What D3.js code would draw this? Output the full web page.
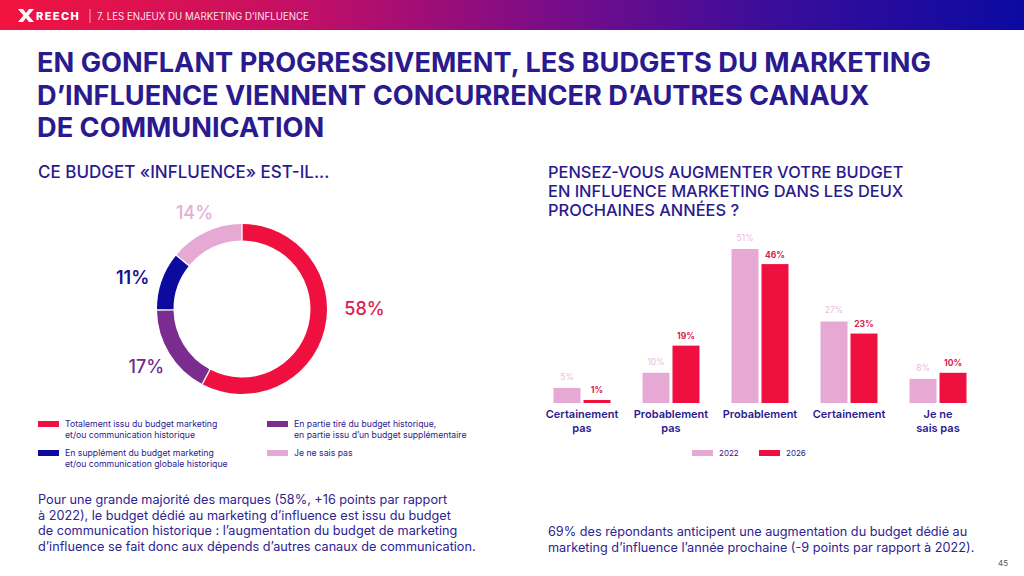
<!DOCTYPE html>
<html>
<head>
<meta charset="utf-8">
<script src="https://cdn.jsdelivr.net/npm/d3@7"></script>
<style>
  html, body { margin: 0; padding: 0; background: #fff; }
  svg { display: block; font-family: Inter, "Noto Sans", sans-serif; }
</style>
</head>
<body>
<svg id="chart" width="1024" height="576"></svg>
<script>
// Donut data
const donutLabels = [
  ["Totalement issu du budget marketing", "et/ou communication historique"],
  ["En partie tiré du budget historique,", "en partie issu d’un budget supplémentaire"],
  ["En supplément du budget marketing", "et/ou communication globale historique"],
  ["Je ne sais pas"]
];
const donutValues = [58, 17, 11, 14];

// Bar data
const barCategories = [
  ["Certainement", "pas"],
  ["Probablement", "pas"],
  ["Probablement"],
  ["Certainement"],
  ["Je ne", "sais pas"]
];
const years = ["2022", "2026"];
const values2022 = [5, 10, 51, 27, 8];
const values2026 = [1, 19, 46, 23, 10];

const navy = "#2a1a8e";
const red = "#f0103f";
const pink = "#e6a9d4";
const purple = "#7b2d8f";
const blue = "#0d0aa0";
const donutColors = [red, purple, blue, pink];
const donutTextColors = ["#d8204f", "#6e2f8a", "#15128f", "#e3b0d6"];

const svg = d3.select("#chart");

//Header band
const defs = svg.append("defs");
const grad = defs.append("linearGradient").attr("id", "hdr");
[["0%", "#f2143e"], ["30%", "#c20f66"], ["55%", "#760c8a"], ["75%", "#3b0d9a"], ["100%", "#0b0aa2"]]
  .forEach(([o, c]) => grad.append("stop").attr("offset", o).attr("stop-color", c));
svg.append("rect").attr("width", 1024).attr("height", 30).attr("fill", "url(#hdr)");

// logo
svg.append("path")
  .attr("d", "M18,9 L23,9 L26,13 L29,9 L34,9 L28.5,15.5 L34,22 L29,22 L26,18 L23,22 L18,22 L23.5,15.5 Z")
  .attr("fill", "#fff");
svg.append("text").attr("x", 36).attr("y", 20)
  .attr("fill", "#fff").attr("font-size", 11).attr("font-weight", 800)
  .attr("letter-spacing", 1.4).text("REECH");
svg.append("line").attr("x1", 90).attr("x2", 90).attr("y1", 9).attr("y2", 23)
  .attr("stroke", "#fff").attr("stroke-opacity", 0.6);
svg.append("text").attr("x", 97).attr("y", 19.5)
  .attr("fill", "#fff").attr("fill-opacity", 0.9).attr("font-size", 9.7)
  .text("7. LES ENJEUX DU MARKETING D’INFLUENCE");

// Title
const titleLines = [
  "EN GONFLANT PROGRESSIVEMENT, LES BUDGETS DU MARKETING",
  "D’INFLUENCE VIENNENT CONCURRENCER D’AUTRES CANAUX",
  "DE COMMUNICATION"
];
svg.append("g").selectAll("text").data(titleLines).enter().append("text")
  .attr("x", 37).attr("y", (d, i) => 72 + i * 32.5)
  .attr("fill", navy).attr("font-size", 27.2).attr("font-weight", 700)
  .text(d => d);

// Sub-titles
svg.append("text").attr("x", 38).attr("y", 178)
  .attr("fill", navy).attr("font-size", 17).attr("font-weight", 500)
  .text("CE BUDGET «INFLUENCE» EST-IL...");

const rightSub = [
  "PENSEZ-VOUS AUGMENTER VOTRE BUDGET",
  "EN INFLUENCE MARKETING DANS LES DEUX",
  "PROCHAINES ANNÉES ?"
];
svg.append("g").selectAll("text").data(rightSub).enter().append("text")
  .attr("x", 548).attr("y", (d, i) => 178 + i * 19)
  .attr("fill", navy).attr("font-size", 16.4).attr("font-weight", 500)
  .text(d => d);

//Donut
const cx = 242, cy = 309, rOut = 85, rIn = 68.5;
const pie = d3.pie().sort(null).value(d => d).padAngle(0.012);
const arc = d3.arc().innerRadius(rIn).outerRadius(rOut);
const arcs = pie(donutValues);

const donut = svg.append("g").attr("transform", `translate(${cx},${cy})`);
donut.selectAll("path").data(arcs).enter().append("path")
  .attr("d", arc)
  .attr("fill", (d, i) => donutColors[i]);

const labelArc = d3.arc().innerRadius(118).outerRadius(118);
const labelNudge = [[8, -29], [5, -4], [2, 8], [3, 10]];
donut.selectAll("text.pct").data(arcs).enter().append("text")
  .attr("class", "pct")
  .attr("x", (d, i) => labelArc.centroid(d)[0] + labelNudge[i][0])
  .attr("y", (d, i) => labelArc.centroid(d)[1] + labelNudge[i][1])
  .attr("dy", "0.35em")
  .attr("text-anchor", "middle")
  .attr("fill", (d, i) => donutTextColors[i])
  .attr("font-size", 18)
  .attr("font-weight", (d, i) => i === 2 ? 600 : 500)
  .text(d => `${d.data}%`);

// Donut legend
const legendPos = [[38, 424], [267, 424], [38, 453], [267, 453]];
const leg = svg.append("g").selectAll("g").data(donutLabels).enter().append("g")
  .attr("transform", (d, i) => `translate(${legendPos[i][0]},${legendPos[i][1]})`);
leg.append("rect").attr("y", -3).attr("width", 21).attr("height", 6)
  .attr("fill", (d, i) => donutColors[i]);
leg.selectAll("text").data(d => d).enter().append("text")
  .attr("x", 27).attr("y", (d, i) => 3.2 + i * 10.8)
  .attr("fill", navy).attr("font-size", 8.7)
  .text(d => d);

//Bars
const baseline = 403;
const x0 = d3.scaleBand().domain(d3.range(barCategories.length))
  .range([553.5, 966.5]).paddingInner(0.36).paddingOuter(0);
const x1 = d3.scaleBand().domain(years).range([0, x0.bandwidth()]).paddingInner(0.1);
const y = d3.scaleLinear().domain([0, 51]).range([baseline, 249]);

const series = [values2022, values2026];
const barColors = [pink, red];
const labelColors = ["#e9bcdc", "#d8204f"];

const groups = svg.append("g").selectAll("g").data(barCategories).enter().append("g")
  .attr("transform", (d, i) => `translate(${x0(i)},0)`);

groups.selectAll("rect")
  .data((d, i) => years.map((yr, s) => ({ yr, s, v: series[s][i] })))
  .enter().append("rect")
  .attr("x", d => x1(d.yr))
  .attr("y", d => y(d.v))
  .attr("width", x1.bandwidth())
  .attr("height", d => baseline - y(d.v))
  .attr("fill", d => barColors[d.s]);

groups.selectAll("text.val")
  .data((d, i) => years.map((yr, s) => ({ yr, s, v: series[s][i] })))
  .enter().append("text")
  .attr("class", "val")
  .attr("x", d => x1(d.yr) + x1.bandwidth() / 2)
  .attr("y", d => y(d.v) - (d.s === 0 ? 8 : 6.5))
  .attr("text-anchor", "middle")
  .attr("fill", d => labelColors[d.s])
  .attr("font-size", 8.5)
  .attr("font-weight", d => d.s === 0 ? 400 : 700)
  .text(d => `${d.v}%`);

groups.selectAll("text.cat")
  .data(d => d)
  .enter().append("text")
  .attr("class", "cat")
  .attr("x", x0.bandwidth() / 2)
  .attr("y", (d, i) => 418 + i * 13.5)
  .attr("text-anchor", "middle")
  .attr("fill", navy).attr("font-size", 11).attr("font-weight", 600)
  .text(d => d);

// Bar legend
const barLeg = svg.append("g").selectAll("g").data(years).enter().append("g")
  .attr("transform", (d, i) => `translate(${692 + i * 67},453)`);
barLeg.append("rect").attr("y", -3).attr("width", 21).attr("height", 6)
  .attr("fill", (d, i) => barColors[i]);
barLeg.append("text").attr("x", 27).attr("y", 3)
  .attr("fill", navy).attr("font-size", 8).text(d => d);

// Paragraphs
const leftPara = [
  "Pour une grande majorité des marques (58%, +16 points par rapport",
  "à 2022), le budget dédié au marketing d’influence est issu du budget",
  "de communication historique : l’augmentation du budget de marketing",
  "d’influence se fait donc aux dépends d’autres canaux de communication."
];
svg.append("g").selectAll("text").data(leftPara).enter().append("text")
  .attr("x", 38).attr("y", (d, i) => 504 + i * 15.6)
  .attr("fill", "#2e2391").attr("font-size", 12.7)
  .text(d => d);

const rightPara = [
  "69% des répondants anticipent une augmentation du budget dédié au",
  "marketing d’influence l’année prochaine (-9 points par rapport à 2022)."
];
svg.append("g").selectAll("text").data(rightPara).enter().append("text")
  .attr("x", 548).attr("y", (d, i) => 536 + i * 16)
  .attr("fill", "#2e2391").attr("font-size", 12.7)
  .text(d => d);

svg.append("text").attr("x", 1008).attr("y", 566).attr("text-anchor", "end")
  .attr("fill", "#555").attr("font-size", 8).text("45");
</script>
</body>
</html>
